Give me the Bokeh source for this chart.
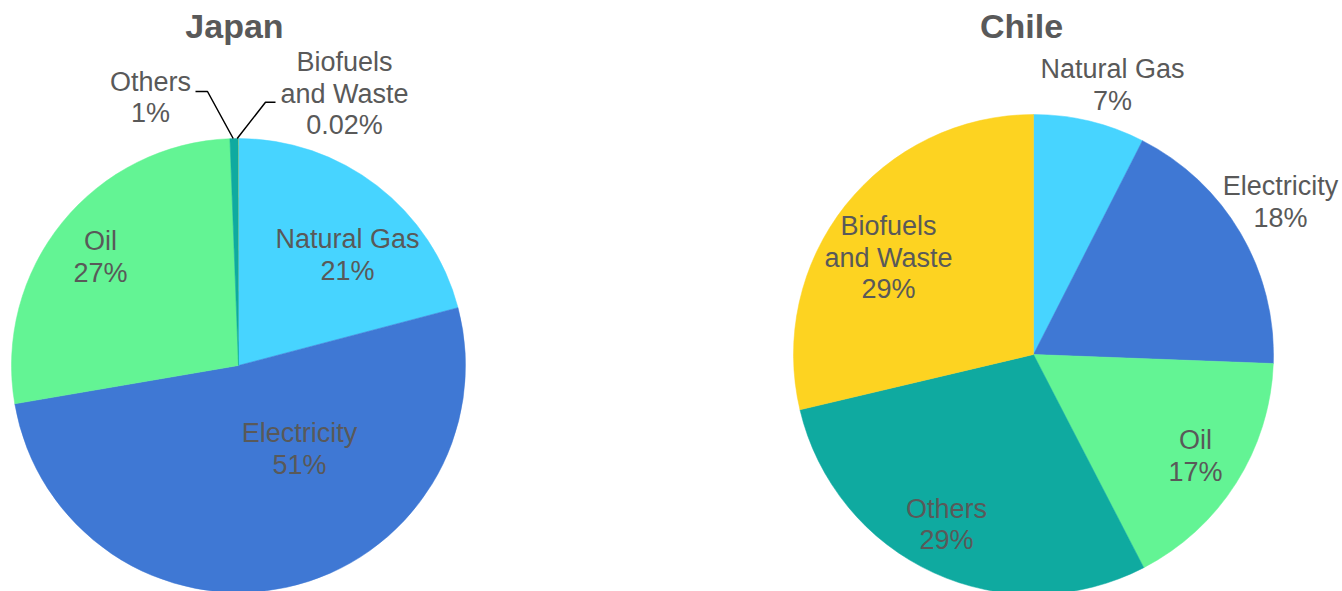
import numpy as np
from bokeh.plotting import figure
from bokeh.models import Range1d, ColumnDataSource
from bokeh.core.properties import value
from bokeh.embed import file_html
from bokeh.resources import INLINE

W, H = 1342, 591

# ---- data ----
japan_categories = ["Natural Gas", "Electricity", "Oil", "Others", "Biofuels and Waste"]
japan_values = [20.9, 51.4, 27.1, 0.58, 0.02]
japan_labels = ["Natural Gas\n21%", "Electricity\n51%", "Oil\n27%", "Others\n1%", "Biofuels\nand Waste\n0.02%"]

chile_categories = ["Natural Gas", "Electricity", "Oil", "Others", "Biofuels and Waste"]
chile_values = [7.5, 18.1, 16.8, 28.9, 28.7]
chile_labels = ["Natural Gas\n7%", "Electricity\n18%", "Oil\n17%", "Others\n29%", "Biofuels\nand Waste\n29%"]

colors = {"Natural Gas": "#47D4FF", "Electricity": "#3F78D4", "Oil": "#63F494",
          "Others": "#0FAAA0", "Biofuels and Waste": "#FDD321"}

FONT = value("Liberation Sans")
GREY = "#595959"

def Y(ypix):
    return H - ypix

p = figure(width=W, height=H, x_range=Range1d(0, W), y_range=Range1d(0, H),
           output_backend="svg", toolbar_location=None, min_border=0,
           background_fill_color="white", border_fill_color="white")
p.axis.visible = False
p.grid.visible = False
p.outline_line_color = None

def pie(cx, cy, r, cats, vals):
    v = np.array(vals, dtype=float)
    frac = v / v.sum()
    cum = np.concatenate([[0], np.cumsum(frac)])
    start = np.pi / 2 - cum[:-1] * 2 * np.pi
    end = np.pi / 2 - cum[1:] * 2 * np.pi
    lw = [0.5 if f > 0.001 else 0 for f in frac]
    src = ColumnDataSource(dict(x=[cx] * len(v), y=[Y(cy)] * len(v), start=start, end=end,
                                color=[colors[c] for c in cats], lw=lw))
    p.wedge(x="x", y="y", radius=r, start_angle="start", end_angle="end", direction="clock",
            fill_color="color", line_color="color", line_width="lw", source=src)

pie(238, 365, 227, japan_categories, japan_values)
pie(1033, 354, 240, chile_categories, chile_values)

# leader lines (Japan small slices)
p.line(x=[195, 207, 232.7], y=[Y(91), Y(91), Y(138)], line_color="black", line_width=1.5)
p.line(x=[275, 265, 236.7], y=[Y(101.7), Y(101.7), Y(138)], line_color="black", line_width=1.5)

# labels
jpos = [(347, 254.5), (299, 448.5), (100, 256.5), (150, 97), (344, 93)]
cpos = [(1112, 84.5), (1280, 201.5), (1195, 455.5), (946, 524), (888, 257)]
lx = [q[0] for q in jpos + cpos]
ly = [Y(q[1]) for q in jpos + cpos]
p.text(x=lx, y=ly, text=japan_labels + chile_labels, text_font=FONT, text_font_size="27px",
       text_color=GREY, text_align="center", text_baseline="middle", text_line_height=1.05)

# titles
p.text(x=[234, 1021], y=[Y(25), Y(25)], text=["Japan", "Chile"], text_font=FONT,
       text_font_size="34px", text_font_style="bold", text_color=GREY,
       text_align="center", text_baseline="middle")

open("out.html", "w").write(file_html(p, INLINE))
